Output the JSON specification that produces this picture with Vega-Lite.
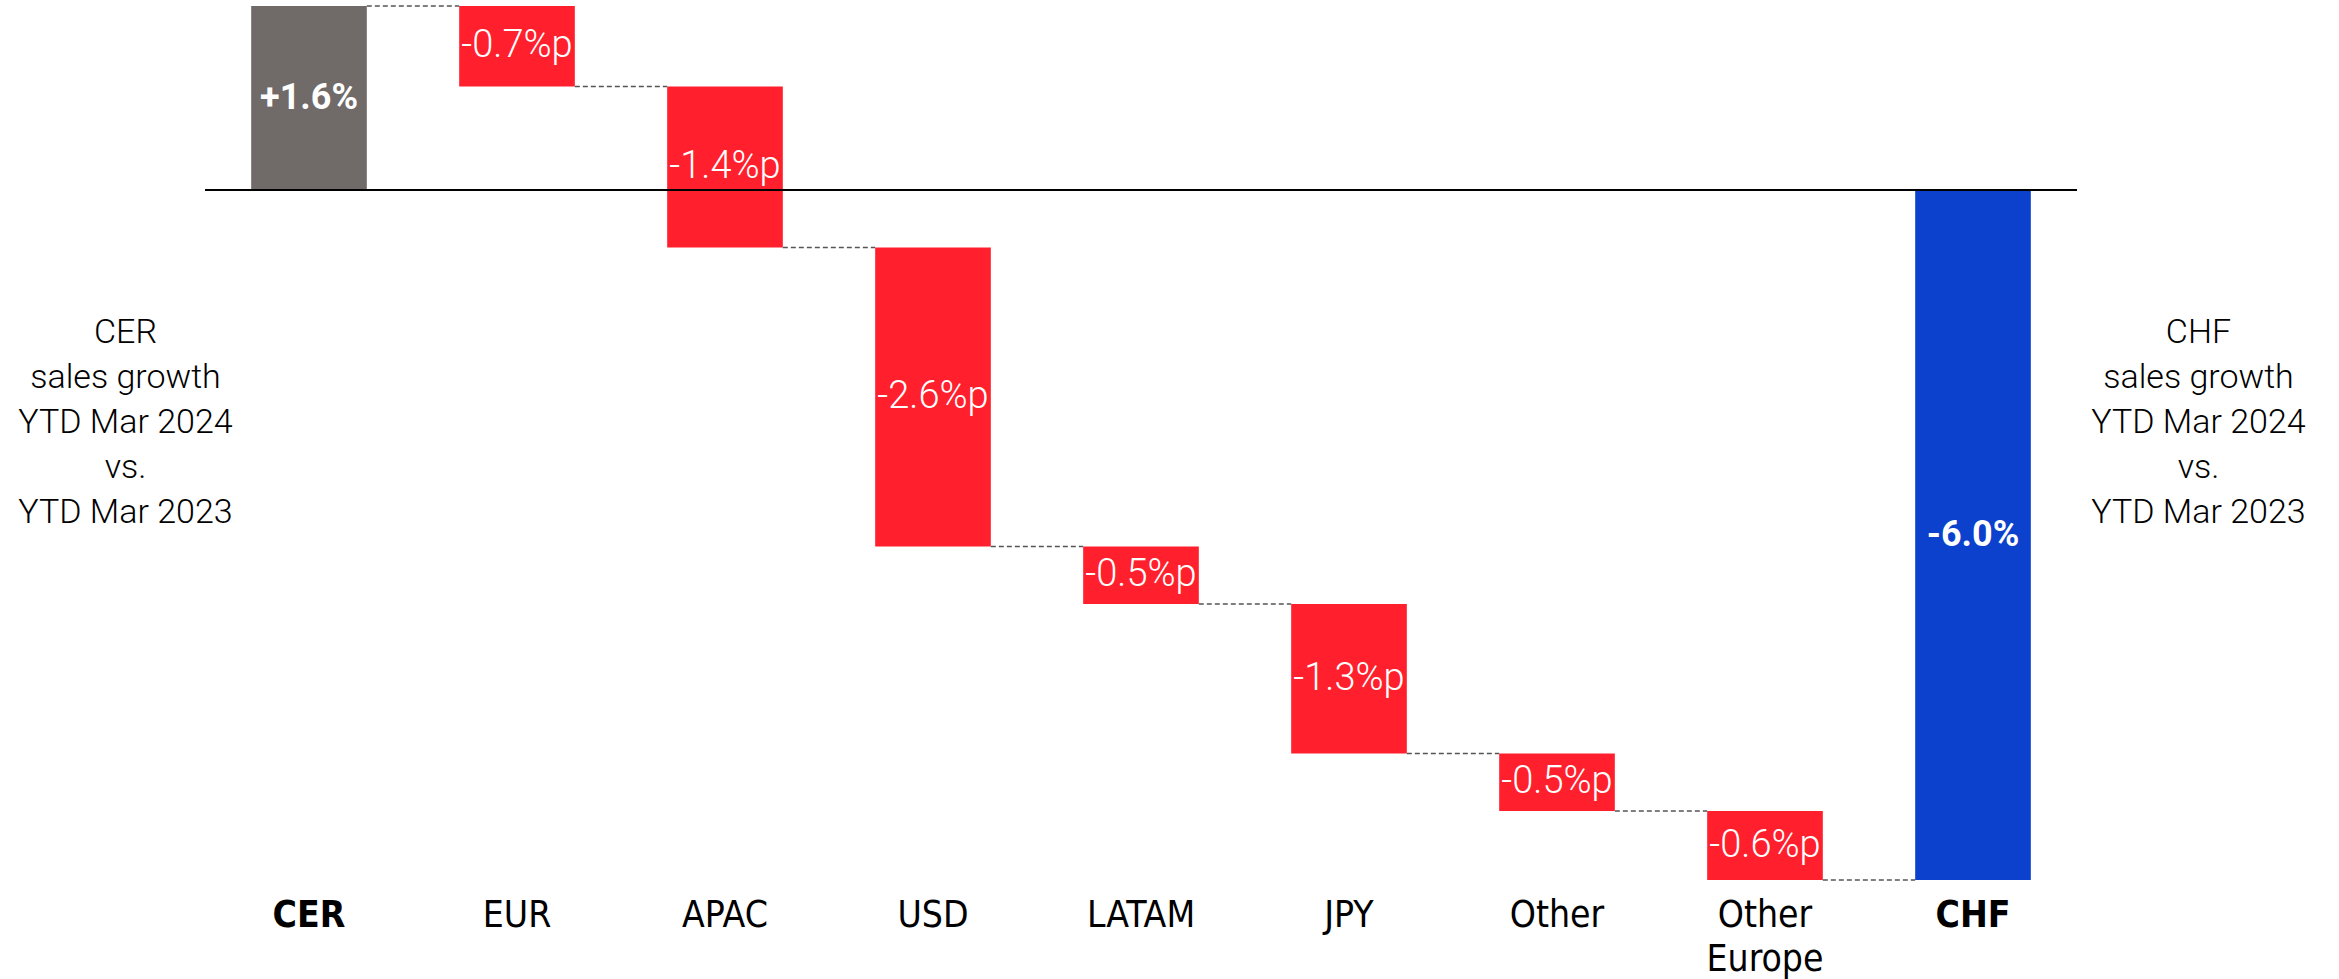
{
  "$schema": "https://vega.github.io/schema/vega-lite/v6.json",
  "width": 1872,
  "height": 874,
  "autosize": {"type": "none"},
  "padding": {"left": 205, "top": 6, "right": 262, "bottom": 99},
  "background": "white",
  "config": {"view": {"stroke": null}},
  "data": {
    "values": [
      {"cat": "CER", "start": 0, "end": 1.6, "kind": "start", "label": "+1.6%", "next": "EUR"},
      {"cat": "EUR", "start": 1.6, "end": 0.9, "kind": "change", "label": "-0.7%p", "next": "APAC"},
      {"cat": "APAC", "start": 0.9, "end": -0.5, "kind": "change", "label": "-1.4%p", "next": "USD"},
      {"cat": "USD", "start": -0.5, "end": -3.1, "kind": "change", "label": "-2.6%p", "next": "LATAM"},
      {"cat": "LATAM", "start": -3.1, "end": -3.6, "kind": "change", "label": "-0.5%p", "next": "JPY"},
      {"cat": "JPY", "start": -3.6, "end": -4.9, "kind": "change", "label": "-1.3%p", "next": "Other"},
      {"cat": "Other", "start": -4.9, "end": -5.4, "kind": "change", "label": "-0.5%p", "next": "Other Europe"},
      {"cat": "Other Europe", "start": -5.4, "end": -6.0, "kind": "change", "label": "-0.6%p", "next": "CHF"},
      {"cat": "CHF", "start": 0, "end": -6.0, "kind": "end", "label": "-6.0%", "next": null}
    ]
  },
  "resolve": {"axis": {"y": "independent", "x": "independent"}},
  "layer": [
    {
      "mark": {"type": "bar"},
      "encoding": {
        "x": {
          "field": "cat",
          "type": "nominal",
          "scale": {
            "domain": ["CER", "EUR", "APAC", "USD", "LATAM", "JPY", "Other", "Other Europe", "CHF"],
            "paddingInner": 0.444,
            "paddingOuter": 0.222
          },
          "axis": {
            "title": null,
            "domain": false,
            "ticks": false,
            "tickSize": 0,
            "grid": false,
            "labelAngle": 0,
            "labelPadding": 46,
            "labelBaseline": "alphabetic",
            "labelFont": "Liberation Sans Narrow, DejaVu Sans Condensed, sans-serif",
            "labelFontSize": 37,
            "labelColor": "#000000",
            "labelLineHeight": 44,
            "labelOverlap": false,
            "labelBound": false,
            "labelFontWeight": {"condition": {"test": "datum.value == 'CER' || datum.value == 'CHF'", "value": "bold"}, "value": "normal"},
            "labelExpr": "datum.value == 'Other Europe' ? ['Other', 'Europe'] : datum.value"
          }
        },
        "y": {
          "field": "start",
          "type": "quantitative",
          "scale": {"domain": [-6, 1.6], "nice": false, "zero": false},
          "axis": {
            "orient": "left",
            "labels": false,
            "ticks": false,
            "domain": false,
            "grid": false,
            "title": ["CER", "sales growth", "YTD Mar 2024", "vs.", "YTD Mar 2023"],
            "titleAngle": 0,
            "titleAlign": "center",
            "titleBaseline": "alphabetic",
            "titleX": -80,
            "titleY": 336,
            "titleFont": "Roboto",
            "titleFontWeight": 300,
            "titleFontSize": 34,
            "titleLineHeight": 45,
            "titleColor": "#000000"
          }
        },
        "y2": {"field": "end"},
        "color": {
          "field": "kind",
          "type": "nominal",
          "scale": {"domain": ["start", "change", "end"], "range": ["#706B69", "#FF1F2D", "#0B41CD"]},
          "legend": null
        }
      }
    },
    {
      "transform": [{"filter": "datum.next != null"}],
      "mark": {"type": "rule", "color": "#555555", "strokeWidth": 1.5, "strokeDash": [5, 3]},
      "encoding": {
        "x": {"field": "cat", "type": "nominal", "bandPosition": 1, "axis": null},
        "x2": {"field": "next", "bandPosition": 0},
        "y": {
          "field": "end",
          "type": "quantitative",
          "axis": {
            "orient": "right",
            "labels": false,
            "ticks": false,
            "domain": false,
            "grid": false,
            "title": ["CHF", "sales growth", "YTD Mar 2024", "vs.", "YTD Mar 2023"],
            "titleAngle": 0,
            "titleAlign": "center",
            "titleBaseline": "alphabetic",
            "titleX": 121,
            "titleY": 336,
            "titleFont": "Roboto",
            "titleFontWeight": 300,
            "titleFontSize": 34,
            "titleLineHeight": 45,
            "titleColor": "#000000"
          }
        }
      }
    },
    {
      "mark": {"type": "rule", "color": "#000000", "strokeWidth": 2},
      "encoding": {"y": {"datum": 0, "type": "quantitative", "axis": null}}
    },
    {
      "transform": [
        {"filter": "datum.kind == 'change'"},
        {"fold": ["start", "end"], "as": ["k", "v"]}
      ],
      "mark": {"type": "text", "color": "white", "font": "Roboto", "fontWeight": 300, "fontSize": 38, "baseline": "middle"},
      "encoding": {
        "x": {"field": "cat", "type": "nominal", "axis": null},
        "y": {"aggregate": "mean", "field": "v", "type": "quantitative", "axis": null},
        "text": {"field": "label"}
      }
    },
    {
      "transform": [
        {"filter": "datum.kind != 'change'"},
        {"fold": ["start", "end"], "as": ["k", "v"]}
      ],
      "mark": {"type": "text", "color": "white", "font": "Roboto", "fontWeight": "bold", "fontSize": 36, "baseline": "middle"},
      "encoding": {
        "x": {"field": "cat", "type": "nominal", "axis": null},
        "y": {"aggregate": "mean", "field": "v", "type": "quantitative", "axis": null},
        "text": {"field": "label"}
      }
    }
  ]
}
